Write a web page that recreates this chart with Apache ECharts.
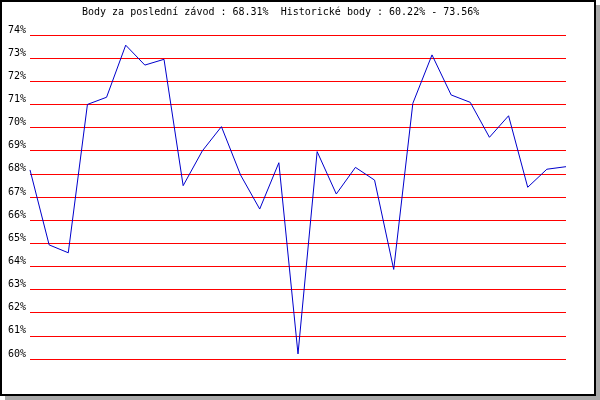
<!DOCTYPE html>
<html>
<head>
<meta charset="utf-8">
<script src="https://cdn.jsdelivr.net/npm/echarts@6/dist/echarts.min.js"></script>
<style>html,body{margin:0;padding:0;background:#fff;}#c{width:600px;height:400px;}</style>
</head>
<body>
<div id="c"></div>
<script>
var titleText = 'Body za poslední závod : 68.31%  Historické body : 60.22% - 73.56%';
var races = ['1','2','3','4','5','6','7','8','9','10','11','12','13','14','15','16','17','18','19','20','21','22','23','24','25','26','27','28','29'];
var points = [68.17, 64.93, 64.59, 71.00, 71.31, 73.56, 72.70, 72.95, 67.49, 68.99,
              70.04, 67.95, 66.48, 68.48, 60.22, 68.96, 67.13, 68.28, 67.73, 63.87,
              71.05, 73.14, 71.41, 71.09, 69.58, 70.51, 67.42, 68.20, 68.31];
var yMin = 60, yMax = 74, yStep = 1;

var chart = echarts.init(document.getElementById('c'), null, {renderer: 'canvas'});
chart.setOption({
  animation: false,
  backgroundColor: '#ffffff',
  graphic: [
    {type: 'rect', z: -10, silent: true, shape: {x: 5, y: 5, width: 595, height: 395}, style: {fill: '#a9a9a9'}},
    {type: 'rect', z: -9, silent: true, shape: {x: 1, y: 1, width: 594, height: 394}, style: {fill: '#ffffff', stroke: '#000000', lineWidth: 2}}
  ],
  title: {
    text: titleText,
    left: 82,
    top: 7,
    padding: 0,
    textStyle: {fontFamily: 'DejaVu Sans Mono', fontSize: 10, fontWeight: 'normal', color: '#000'}
  },
  grid: {left: 30, right: 34, top: 35, bottom: 41, containLabel: false},
  xAxis: {
    type: 'category',
    data: races,
    boundaryGap: false,
    axisLine: {show: false},
    axisTick: {show: false},
    axisLabel: {show: false},
    splitLine: {show: false}
  },
  yAxis: {
    type: 'value',
    min: yMin,
    max: yMax,
    interval: yStep,
    axisLine: {show: false},
    axisTick: {show: false},
    axisLabel: {
      formatter: '{value}%',
      fontFamily: 'DejaVu Sans Mono',
      fontSize: 10,
      color: '#000',
      margin: 4,
      verticalAlign: 'bottom'
    },
    splitLine: {show: true, lineStyle: {color: '#ff0000', width: 1}}
  },
  series: [{
    type: 'line',
    data: points,
    symbol: 'none',
    lineStyle: {color: '#0000cc', width: 1},
    itemStyle: {color: '#0000cc'}
  }]
});
</script>
</body>
</html>
